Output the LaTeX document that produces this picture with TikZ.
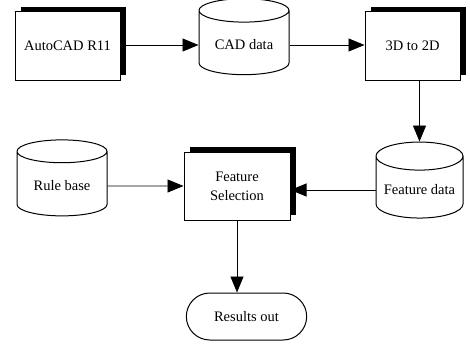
\documentclass[tikz,border=0pt]{standalone}
\usepackage{fontspec}
\setmainfont{Liberation Serif}
\usetikzlibrary{shapes.geometric,shapes.misc,shadows,arrows.meta}
\begin{document}
\begin{tikzpicture}[x=1pt, y=-1pt,
		every node/.style = {draw, line width=1pt, align=center,
			font=\fontsize{14.5}{19}\selectfont},
		process/.style = {rectangle, fill=white, minimum width=105pt, minimum height=68pt,
			general shadow={fill=black, shadow xshift=6pt, shadow yshift=5pt}},
		store/.style = {cylinder, shape border rotate=90, aspect=0.36, fill=white,
			minimum width=90pt, minimum height=76pt},
		terminal/.style = {rounded rectangle, minimum width=127pt, minimum height=47pt},
		flow/.style = {-{Triangle[length=16pt,width=13pt]}, line width=0.9pt}]
	\useasboundingbox (0,0) rectangle (470,345);
	\node[process] (autocad) at (67.5,46) {AutoCAD R11};
	\node[store] (cad) at (244,45) {CAD data};
	\node[process, minimum width=95pt] (t3d) at (412.5,46) {3D to 2D};
	\node[store, minimum width=87pt] (fdata) at (419.5,190) {Feature data};
	\node[process, minimum width=106pt] (fsel) at (237,186) {Feature\\Selection};
	\node[store] (rule) at (62,186) {Rule base};
	\node[terminal] (res) at (246.5,316.5) {Results out};
	\draw[flow] (autocad.east |- cad.west) -- (cad.west);
	\draw[flow] (cad.east) -- (cad.east -| t3d.west);
	\draw[flow] (t3d.south -| fdata.north) -- (fdata.north);
	\draw[flow] (fdata.west) -- (fdata.west -| fsel.east);
	\draw[flow] (rule) -- (fsel);
	\draw[flow] (fsel.south) -- (fsel.south |- res.north);
\end{tikzpicture}
\end{document}
